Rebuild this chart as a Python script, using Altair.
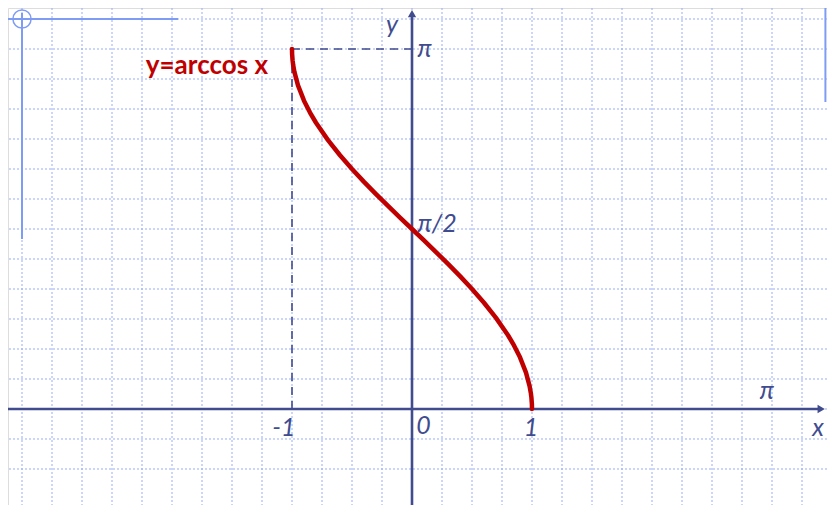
import altair as alt
import pandas as pd
import math

PI = math.pi

# curve values (y = arccos x)
curve_x = [-1.0, -0.999, -0.995, -0.99, -0.98, -0.95, -0.9, -0.85, -0.8, -0.7, -0.6, -0.5, -0.4, -0.3,
           -0.2, -0.1, 0.0, 0.1, 0.2, 0.3, 0.4, 0.5, 0.6, 0.7, 0.8, 0.85, 0.9, 0.95, 0.98, 0.99, 0.995, 0.999, 1.0]
curve_y = [3.1416, 3.0969, 3.0415, 3.0001, 2.9413, 2.8240, 2.6906, 2.5868, 2.4981, 2.3462, 2.2143, 2.0944,
           1.9823, 1.8755, 1.7722, 1.6710, 1.5708, 1.4706, 1.3694, 1.2661, 1.1593, 1.0472, 0.9273, 0.7954,
           0.6435, 0.5548, 0.4510, 0.3176, 0.2003, 0.1415, 0.1002, 0.0447, 0.0]

# axis tick labels
left_text = ["π", "π/2"]
left_x = [0.045, 0.045]
left_y = [3.1416, 1.614]
center_text = ["-1", "0", "1", "π", "x", "y"]
center_x = [-1.067, 0.095, 0.992, 2.958, 3.383, -0.167]
center_y = [-0.168, -0.150, -0.168, 0.157, -0.168, 3.35]

# grid
grid_x = [-3.25 + 0.25 * k for k in range(28)]
grid_y = [k * PI / 12 for k in range(-2, 14)]

X_DOM = [-3.36667, 3.45833]
Y_DOM = [-0.83776, 3.49939]

AX = "#414c8f"
RED = "#c00000"
GRID = "#98adf5"
DECO = "#7f9cf4"

xs = alt.Scale(domain=X_DOM, nice=False, zero=False)
ys = alt.Scale(domain=Y_DOM, nice=False, zero=False)

base = alt.Chart(pd.DataFrame({"x": [0.0], "y": [0.0]})).mark_point(opacity=0).encode(
    x=alt.X("x:Q", scale=xs, title=None, axis=None),
    y=alt.Y("y:Q", scale=ys, title=None, axis=None),
)

vgrid = alt.Chart(pd.DataFrame({"gx": grid_x})).mark_rule(
    color=GRID, strokeDash=[2, 2], strokeWidth=1).encode(x=alt.X("gx:Q", scale=xs))
hgrid = alt.Chart(pd.DataFrame({"gy": grid_y})).mark_rule(
    color=GRID, strokeDash=[2, 2], strokeWidth=1).encode(y=alt.Y("gy:Q", scale=ys))

# decorative notebook margin lines
deco_df = pd.DataFrame({
    "x": [-3.408, -3.25, 3.445],
    "y": [3.4034, 3.4558, 3.55],
    "x2": [-1.95, -3.25, 3.445],
    "y2": [3.4034, 1.4835, 2.679],
})
deco = alt.Chart(deco_df).mark_rule(color=DECO, strokeWidth=2).encode(
    x=alt.X("x:Q", scale=xs), y=alt.Y("y:Q", scale=ys), x2="x2", y2="y2")
circle = alt.Chart(pd.DataFrame({"x": [-3.25], "y": [3.4034]})).mark_point(
    shape="circle", size=330, filled=False, color=DECO, strokeWidth=1.5, opacity=1
).encode(x=alt.X("x:Q", scale=xs), y=alt.Y("y:Q", scale=ys))

# dashed guides
guide_df = pd.DataFrame({"x": [-1.0, -1.0], "y": [0.0, PI], "x2": [-1.0, 0.0], "y2": [PI, PI]})
guides = alt.Chart(guide_df).mark_rule(color=AX, strokeWidth=1.6, strokeDash=[8, 6]).encode(
    x=alt.X("x:Q", scale=xs), y=alt.Y("y:Q", scale=ys), x2="x2", y2="y2")

# main axes
axes_df = pd.DataFrame({"x": [-3.5, 0.0], "y": [0.0, -1.0], "x2": [3.40, 0.0], "y2": [0.0, 3.44]})
axes = alt.Chart(axes_df).mark_rule(color=AX, strokeWidth=2.6).encode(
    x=alt.X("x:Q", scale=xs), y=alt.Y("y:Q", scale=ys), x2="x2", y2="y2")

arrow_df = pd.DataFrame({"x": [3.41, 0.0], "y": [0.0, 3.45], "shape": ["triangle-right", "triangle-up"]})
arrows = alt.Chart(arrow_df).mark_point(filled=True, color=AX, size=70, opacity=1).encode(
    x=alt.X("x:Q", scale=xs), y=alt.Y("y:Q", scale=ys),
    shape=alt.Shape("shape:N", scale=None, legend=None))

curve = alt.Chart(pd.DataFrame({"x": curve_x, "y": curve_y})).mark_line(
    color=RED, strokeWidth=4.5, strokeCap="round", strokeJoin="round"
).encode(x=alt.X("x:Q", scale=xs), y=alt.Y("y:Q", scale=ys), order="x:Q")

labels_left = alt.Chart(pd.DataFrame({"x": left_x, "y": left_y, "t": left_text})).mark_text(
    font="Lato", fontStyle="italic", fontSize=25, color=AX, align="left", baseline="middle"
).encode(x=alt.X("x:Q", scale=xs), y=alt.Y("y:Q", scale=ys), text="t:N")
labels_center = alt.Chart(pd.DataFrame({"x": center_x, "y": center_y, "t": center_text})).mark_text(
    font="Lato", fontStyle="italic", fontSize=25, color=AX, align="center", baseline="middle"
).encode(x=alt.X("x:Q", scale=xs), y=alt.Y("y:Q", scale=ys), text="t:N")

title_df = pd.DataFrame({"x": [-1.2], "y": [2.99], "t": ["y=arccos x"]})
title = alt.Chart(title_df).mark_text(
    font="Lato", fontWeight="bold", fontSize=26, color=RED, align="right", baseline="middle"
).encode(x=alt.X("x:Q", scale=xs), y=alt.Y("y:Q", scale=ys), text="t:N")

chart = alt.layer(base, vgrid, hgrid, deco, circle, guides, axes, arrows, curve, labels_left, labels_center,
                  title).properties(
    width=819, height=497, padding=0, autosize=alt.AutoSizeParams(type="none")
).configure_view(stroke=None).configure(background="white")

chart.save("out.html", embed_options={"renderer": "svg", "actions": False})
